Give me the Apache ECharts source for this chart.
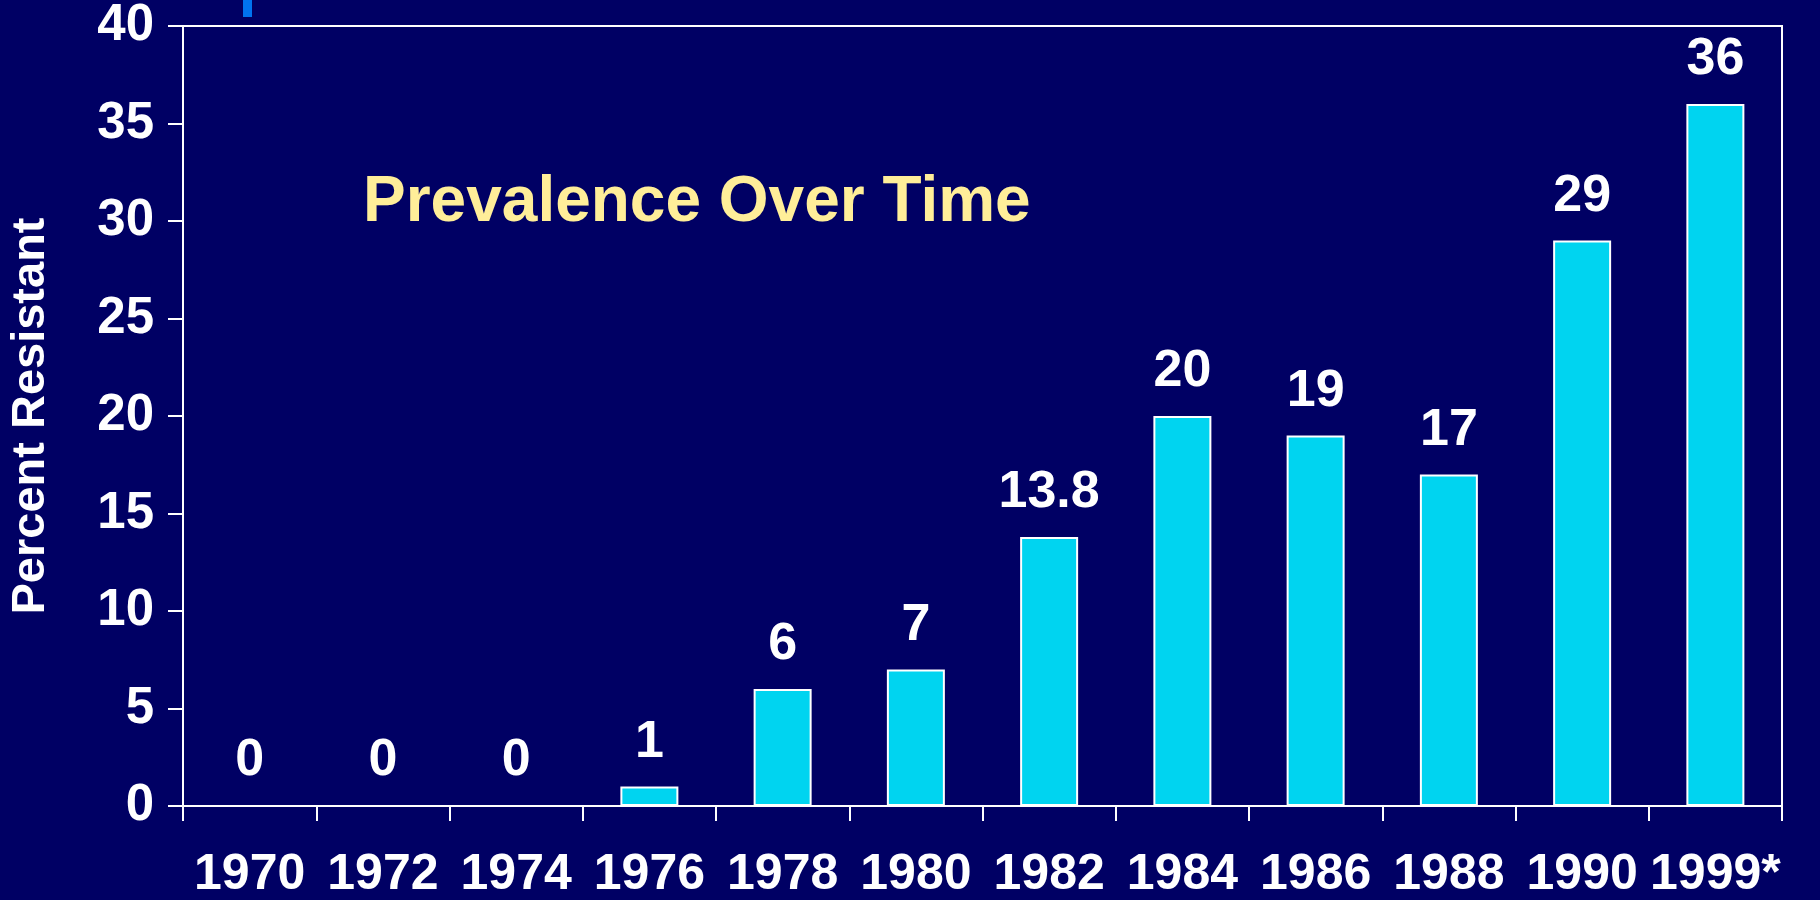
<!DOCTYPE html>
<html>
<head>
<meta charset="utf-8">
<script src="https://cdn.jsdelivr.net/npm/echarts@6/dist/echarts.min.js"></script>
<style>
  html, body { margin: 0; padding: 0; background: #000064; }
  #main { width: 1820px; height: 900px; }
</style>
</head>
<body>
<div id="main"></div>
<script>
// 数据
var years = ['1970', '1972', '1974', '1976', '1978', '1980', '1982', '1984', '1986', '1988', '1990', '1999*'];
var percentResistant = [0, 0, 0, 1, 6, 7, 13.8, 20, 19, 17, 29, 36];
var yTicks = { min: 0, max: 40, interval: 5 };

var font = "'Liberation Sans', Arial, sans-serif";

var myChart = echarts.init(document.getElementById('main'));

var option = {
    backgroundColor: '#000064',
    animation: false,
    title: {
        text: 'Prevalence Over Time',
        left: 358,
        top: 166,
        textStyle: {
            color: '#FFEE99',
            fontFamily: font,
            fontWeight: 'bold',
            fontSize: 64
        }
    },
    grid: {
        left: 183,
        right: 38,
        top: 26,
        bottom: 94,
        outerBoundsMode: 'none',
        containLabel: false,
        show: true,
        borderColor: '#ffffff',
        borderWidth: 2,
        backgroundColor: 'transparent'
    },
    xAxis: {
        type: 'category',
        data: years,
        boundaryGap: true,
        axisLine: { lineStyle: { color: '#ffffff', width: 2 } },
        axisTick: { show: true, length: 15, lineStyle: { color: '#ffffff', width: 2 } },
        axisLabel: {
            color: '#ffffff',
            fontFamily: font,
            fontWeight: 'bold',
            fontSize: 50,
            margin: 44,
            interval: 0
        }
    },
    yAxis: {
        type: 'value',
        min: yTicks.min,
        max: yTicks.max,
        interval: yTicks.interval,
        name: 'Percent Resistant',
        nameLocation: 'middle',
        nameGap: 128,
        nameRotate: 90,
        nameTextStyle: {
            color: '#ffffff',
            fontFamily: font,
            fontWeight: 'bold',
            fontSize: 47
        },
        axisLine: { show: true, lineStyle: { color: '#ffffff', width: 2 } },
        axisTick: { show: true, length: 15, lineStyle: { color: '#ffffff', width: 2 } },
        splitLine: { show: false },
        axisLabel: {
            color: '#ffffff',
            fontFamily: font,
            fontWeight: 'bold',
            fontSize: 51,
            margin: 29
        }
    },
    series: [{
        type: 'bar',
        data: percentResistant,
        barWidth: 58,
        itemStyle: {
            color: '#00D4F0',
            borderColor: '#ffffff',
            borderWidth: 2
        },
        label: {
            show: true,
            position: 'top',
            distance: 18,
            color: '#ffffff',
            fontFamily: font,
            fontWeight: 'bold',
            fontSize: 52
        }
    }],
    graphic: [{
        type: 'rect',
        left: 243,
        top: 0,
        shape: { width: 9, height: 17 },
        style: { fill: '#0073F0' }
    }]
};

myChart.setOption(option);
</script>
</body>
</html>
